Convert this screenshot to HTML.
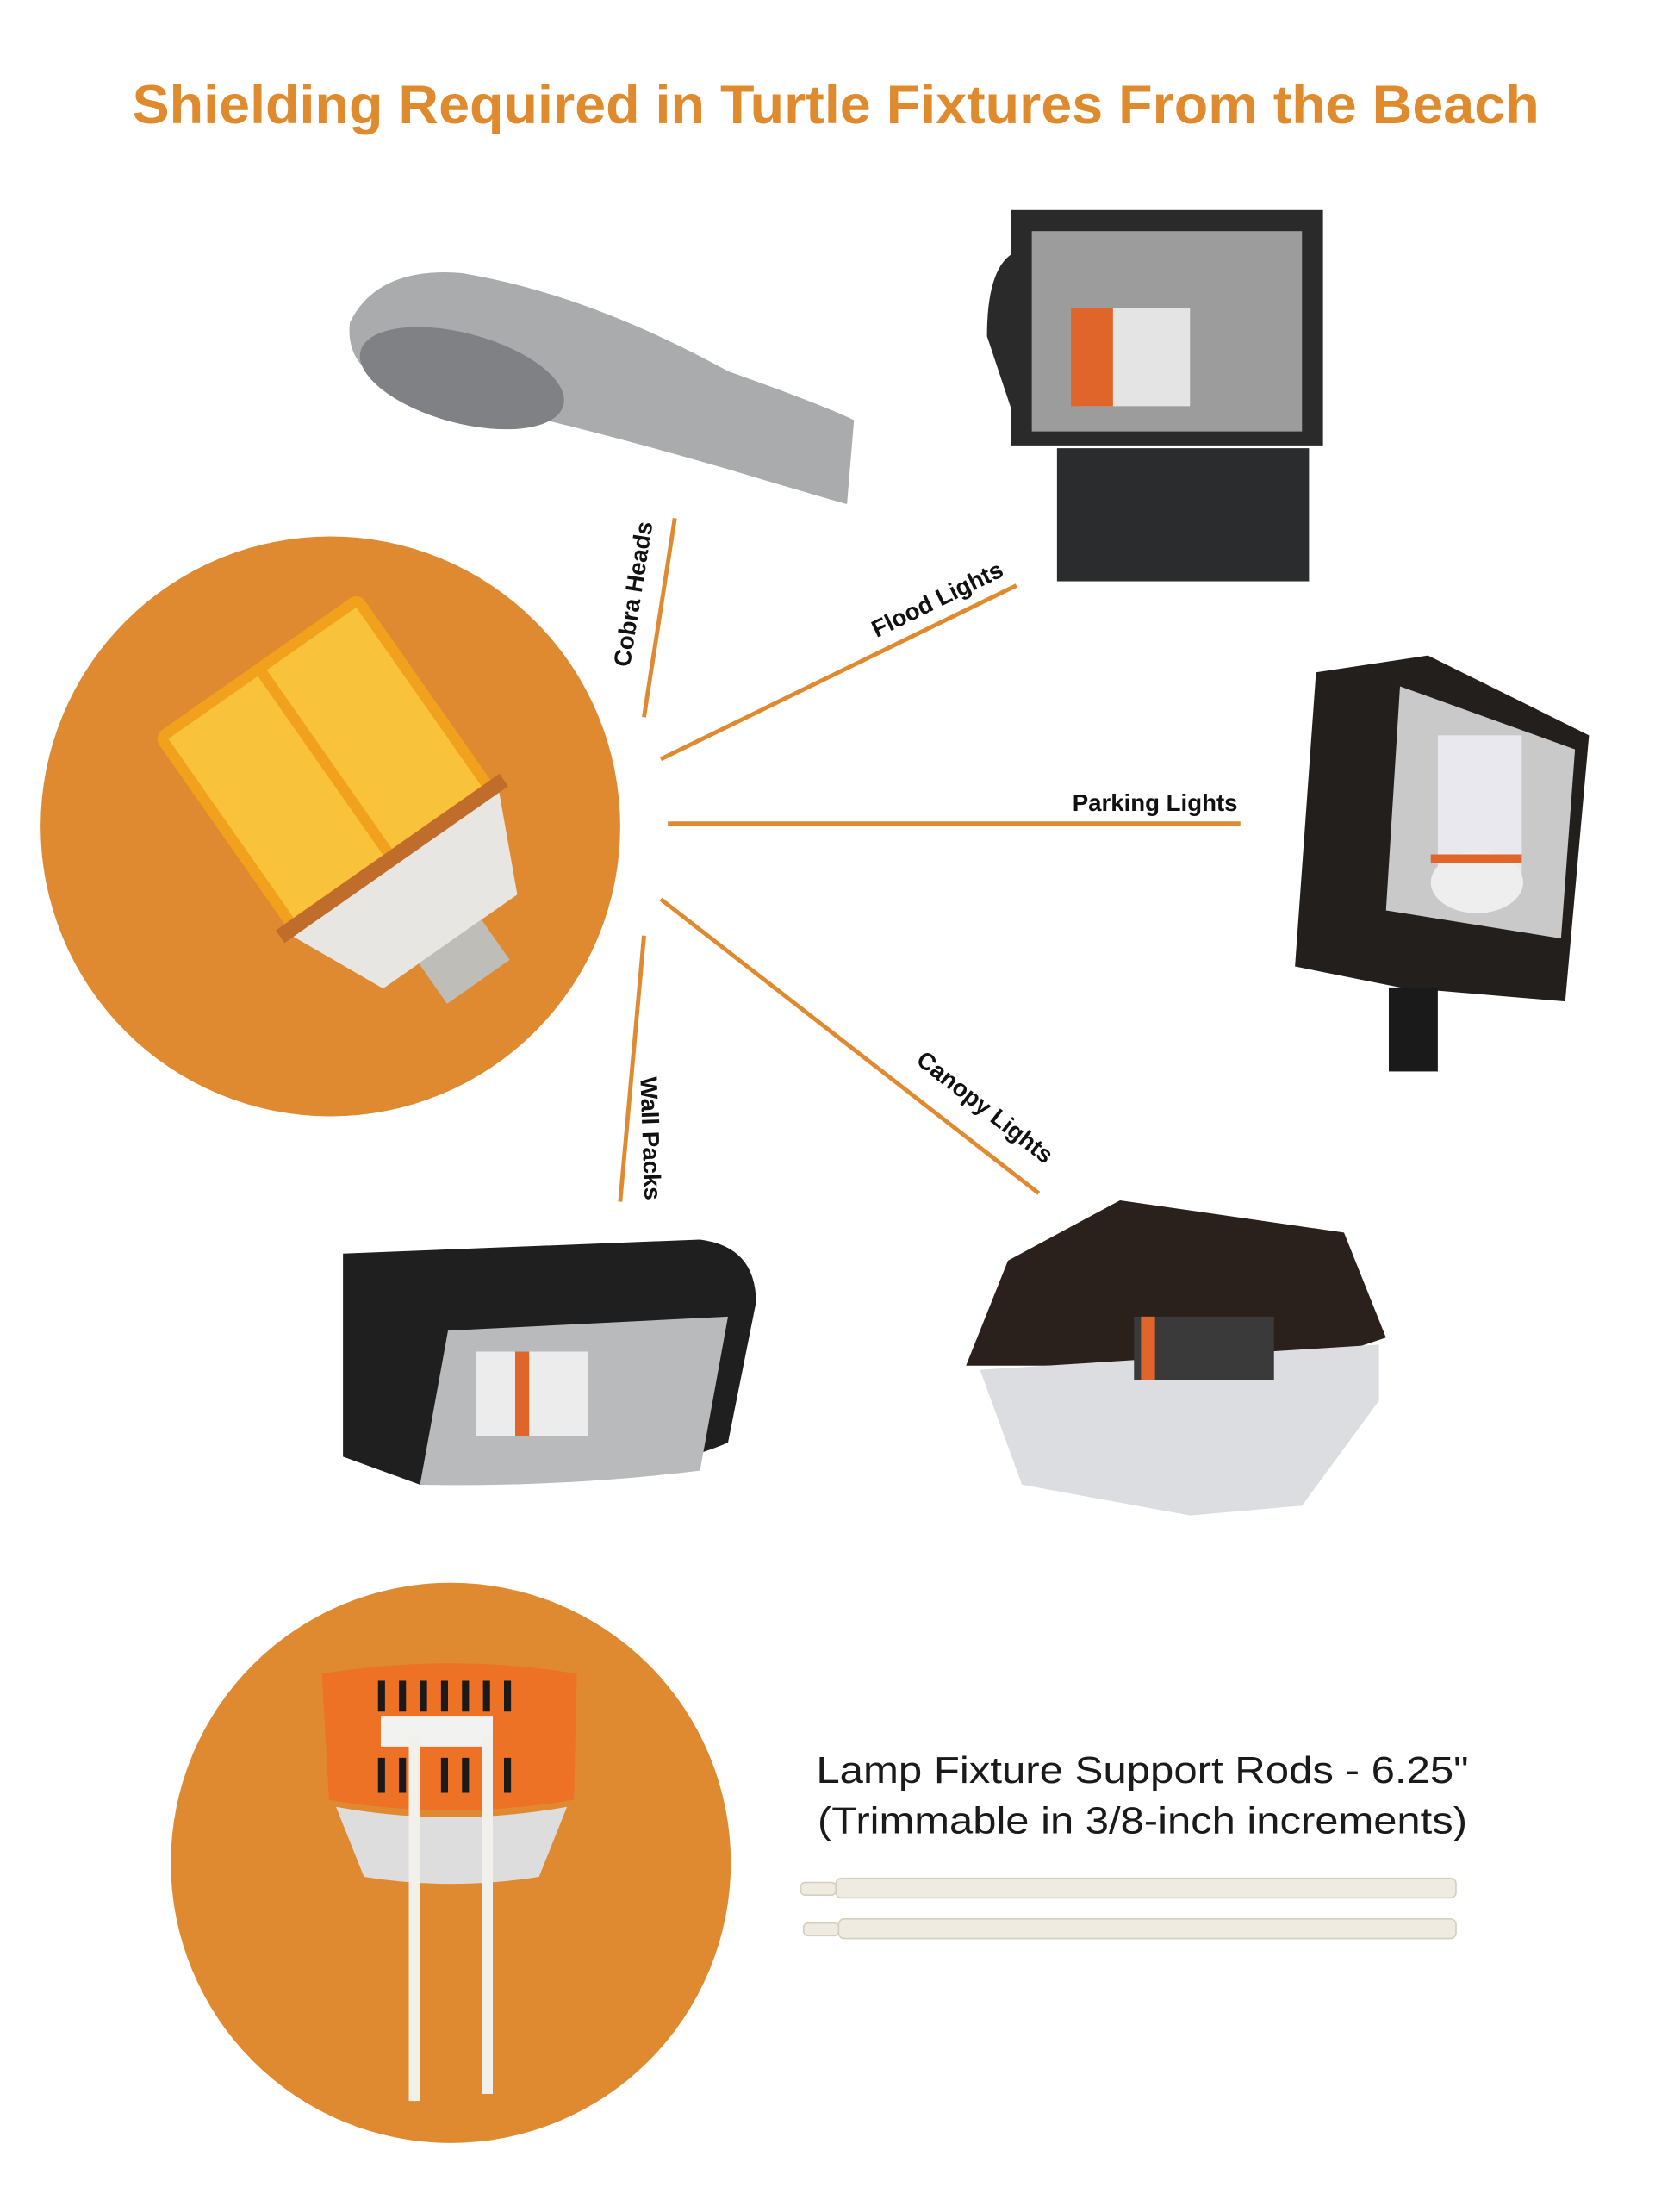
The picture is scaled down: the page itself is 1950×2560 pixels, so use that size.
<!DOCTYPE html>
<html><head><style>
html,body{margin:0;padding:0;background:#fff;}
svg{display:block;}
text{font-family:"Liberation Sans",sans-serif;}
</style></head><body>
<svg width="1950" height="2560" viewBox="0 0 1200 1575" preserveAspectRatio="none" xmlns="http://www.w3.org/2000/svg">
<rect width="1200" height="1575" fill="#fff"/>
<text x="597" y="88" text-anchor="middle" font-size="39" font-weight="bold" fill="#e08a2e" textLength="1005" lengthAdjust="spacingAndGlyphs">Shielding Required in Turtle Fixtures From the Beach</text>

<!-- main circle -->
<circle cx="236" cy="590" r="207" fill="#df8a30"/>
<!-- corn bulb -->
<g transform="translate(250 570) rotate(-35) scale(0.78) translate(-265 -600)">
<rect x="150" y="450" width="230" height="220" rx="10" fill="#f1a11c"/>
<rect x="160" y="460" width="100" height="200" fill="#f8c23a"/>
<rect x="270" y="460" width="100" height="200" fill="#f8c23a"/>
<rect x="140" y="660" width="250" height="14" fill="#c06c2a"/>
<path d="M150 674 L380 674 L340 760 L190 760 Z" fill="#e8e6e2"/>
<rect x="230" y="760" width="70" height="45" fill="#bfbdb8"/>
</g>
<!-- connectors -->
<g stroke="#df8a30" stroke-width="3" fill="none">
<line x1="482" y1="370" x2="460" y2="512"/>
<line x1="726" y1="418" x2="472" y2="542"/>
<line x1="477" y1="588" x2="886" y2="588"/>
<line x1="472" y1="642" x2="742" y2="852"/>
<line x1="460" y1="668" x2="443" y2="858"/>
</g>
<g font-size="17" font-weight="bold" fill="#111">
<text transform="translate(458 425) rotate(-81)" text-anchor="middle">Cobra Heads</text>
<text transform="translate(672 433) rotate(-26)" text-anchor="middle">Flood Lights</text>
<text x="884" y="579" text-anchor="end">Parking Lights</text>
<text transform="translate(700 795) rotate(38)" text-anchor="middle">Canopy Lights</text>
<text transform="translate(459 813) rotate(88)" text-anchor="middle">Wall Packs</text>
</g>

<!-- cobra head -->
<path d="M250 230 Q270 190 330 195 Q420 210 520 265 Q590 290 610 300 L605 360 Q570 350 520 335 Q400 300 300 280 Q245 270 250 230 Z" fill="#a9abad"/>
<ellipse cx="330" cy="270" rx="75" ry="32" fill="#7f8184" transform="rotate(15 330 270)"/>
<!-- flood light -->
<path d="M705 240 Q705 190 725 180 L725 300 Z" fill="#2a2a2a"/>
<rect x="722" y="150" width="223" height="168" fill="#2a2a2a"/>
<rect x="737" y="165" width="193" height="143" fill="#9c9c9c"/>
<rect x="770" y="220" width="80" height="70" fill="#e4e4e4"/>
<rect x="765" y="220" width="30" height="70" fill="#e0652a"/>
<rect x="755" y="320" width="180" height="95" fill="#2b2c2e"/>
<!-- parking light -->
<path d="M940 480 L1020 468 L1135 525 L1118 715 L1000 705 L925 690 Z" fill="#231f1c"/>
<path d="M1000 490 L1125 535 L1115 670 L990 650 Z" fill="#c9c9c9"/>
<rect x="1027" y="525" width="60" height="100" fill="#e8e8ee"/>
<ellipse cx="1055" cy="630" rx="33" ry="22" fill="#eee"/>
<rect x="1022" y="610" width="65" height="6" fill="#e0652a"/>
<rect x="992" y="705" width="35" height="60" fill="#1a1a1a"/>
<!-- wall pack -->
<path d="M245 895 L500 885 Q540 890 540 930 L520 1030 Q450 1060 300 1060 L245 1040 Z" fill="#1f1f1f"/>
<path d="M320 950 L520 940 L500 1050 Q400 1062 300 1060 Z" fill="#b8babb"/>
<rect x="340" y="965" width="80" height="60" fill="#ececec"/>
<rect x="368" y="965" width="10" height="60" fill="#e0652a"/>
<!-- canopy -->
<path d="M690 975 L720 900 L800 857 L960 880 L990 955 L930 975 Z" fill="#2b211c"/>
<path d="M700 978 L985 960 L985 1000 L930 1075 L850 1082 L730 1060 Z" fill="#dcdde0"/>
<rect x="810" y="940" width="100" height="45" fill="#3a3a3a"/>
<rect x="815" y="940" width="10" height="45" fill="#e0652a"/>

<!-- second circle -->
<circle cx="322" cy="1330" r="200" fill="#df8a30"/>
<path d="M230 1195 Q322 1180 412 1195 L410 1285 Q322 1300 235 1285 Z" fill="#ee7226"/>
<path d="M240 1290 Q322 1305 405 1290 L385 1340 Q322 1350 260 1340 Z" fill="#ddd"/>
<g fill="#1a1a1a">
<rect x="270" y="1200" width="5" height="22"/><rect x="285" y="1200" width="5" height="22"/><rect x="300" y="1200" width="5" height="22"/><rect x="315" y="1200" width="5" height="22"/><rect x="330" y="1200" width="5" height="22"/><rect x="345" y="1200" width="5" height="22"/><rect x="360" y="1200" width="5" height="22"/>
<rect x="270" y="1255" width="5" height="25"/><rect x="285" y="1255" width="5" height="25"/><rect x="315" y="1255" width="5" height="25"/><rect x="330" y="1255" width="5" height="25"/><rect x="345" y="1255" width="5" height="25"/><rect x="360" y="1255" width="5" height="25"/>
</g>
<rect x="272" y="1225" width="80" height="22" fill="#f2f2f0"/>
<rect x="292" y="1240" width="8" height="260" fill="#f2f0ea"/>
<rect x="344" y="1240" width="8" height="255" fill="#f2f0ea"/>

<text x="816" y="1273" text-anchor="middle" font-size="27" fill="#1a1a1a" textLength="466" lengthAdjust="spacingAndGlyphs">Lamp Fixture Support Rods - 6.25"</text>
<text x="816" y="1309" text-anchor="middle" font-size="27" fill="#1a1a1a" textLength="464" lengthAdjust="spacingAndGlyphs">(Trimmable in 3/8-inch increments)</text>
<g fill="#efebe0" stroke="#d5cfc0" stroke-width="1">
<rect x="572" y="1344" width="25" height="9" rx="3"/>
<rect x="597" y="1341" width="443" height="14" rx="4"/>
<rect x="574" y="1373" width="25" height="9" rx="3"/>
<rect x="599" y="1370" width="441" height="14" rx="4"/>
</g>
</svg>
</body></html>
